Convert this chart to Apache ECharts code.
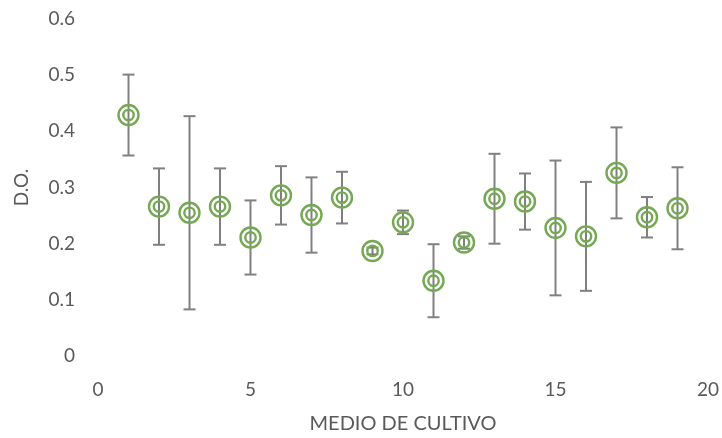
<!DOCTYPE html>
<html>
<head>
<meta charset="utf-8">
<script src="https://cdn.jsdelivr.net/npm/echarts@6/dist/echarts.min.js"></script>
<style>
  html, body { margin: 0; padding: 0; background: #fff; }
  #chart { width: 722px; height: 438px; }
</style>
</head>
<body>
<div id="chart"></div>
<script>
// Medio de cultivo (1–19), densidad óptica media y su desviación estándar
const medios = [1, 2, 3, 4, 5, 6, 7, 8, 9, 10, 11, 12, 13, 14, 15, 16, 17, 18, 19];
const doMedia = [0.429, 0.266, 0.255, 0.266, 0.211, 0.286, 0.251, 0.282, 0.187, 0.238,
                 0.134, 0.202, 0.280, 0.275, 0.228, 0.213, 0.326, 0.247, 0.263];
const doDesv = [0.072, 0.068, 0.172, 0.068, 0.066, 0.052, 0.067, 0.046, 0.006, 0.021,
                0.065, 0.011, 0.080, 0.050, 0.120, 0.097, 0.081, 0.036, 0.073];

const FONT = 'Lato';
const TEXT = '#595959';
const GREEN = '#74A853';
const GREY = '#808080';

const rows = medios.map((m, i) => [m, doMedia[i], doMedia[i] - doDesv[i], doMedia[i] + doDesv[i]]);

const chart = echarts.init(document.getElementById('chart'), null, { renderer: 'canvas' });
chart.setOption({
  animation: false,
  backgroundColor: '#fff',
  grid: { left: 98, right: 14, top: 19, bottom: 82, outerBoundsMode: 'none', containLabel: false },
  xAxis: {
    type: 'value', min: 0, max: 20, interval: 5,
    name: 'MEDIO DE CULTIVO', nameLocation: 'middle', nameGap: 58,
    nameTextStyle: { fontFamily: FONT, fontSize: 20, color: TEXT },
    axisLine: { show: false }, axisTick: { show: false }, splitLine: { show: false },
    axisLabel: { fontFamily: FONT, fontSize: 19, color: TEXT, margin: 24 }
  },
  yAxis: {
    type: 'value', min: 0, max: 0.6, interval: 0.1,
    name: 'D.O.', nameLocation: 'middle', nameGap: 67, nameRotate: 90,
    nameTextStyle: { fontFamily: FONT, fontSize: 19, color: TEXT },
    axisLine: { show: false }, axisTick: { show: false }, splitLine: { show: false },
    axisLabel: { fontFamily: FONT, fontSize: 19, color: TEXT, margin: 23 }
  },
  series: [{
    type: 'custom',
    data: rows,
    encode: { x: 0, y: [1, 2, 3] },
    renderItem: function (params, api) {
      const x = api.value(0);
      const c = api.coord([x, api.value(1)]);
      const lo = api.coord([x, api.value(2)]);
      const hi = api.coord([x, api.value(3)]);
      const cap = 6;
      const bar = { stroke: GREY, lineWidth: 2 };
      return {
        type: 'group',
        children: [
          { type: 'line', shape: { x1: hi[0], y1: hi[1], x2: lo[0], y2: lo[1] }, style: bar },
          { type: 'line', shape: { x1: hi[0] - cap, y1: hi[1], x2: hi[0] + cap, y2: hi[1] }, style: bar },
          { type: 'line', shape: { x1: lo[0] - cap, y1: lo[1], x2: lo[0] + cap, y2: lo[1] }, style: bar },
          { type: 'circle', shape: { cx: c[0], cy: c[1], r: 10 }, style: { fill: 'none', stroke: GREEN, lineWidth: 2.4 } },
          { type: 'circle', shape: { cx: c[0], cy: c[1], r: 5.2 }, style: { fill: 'none', stroke: GREEN, lineWidth: 2.4 } }
        ]
      };
    }
  }]
});
</script>
</body>
</html>
